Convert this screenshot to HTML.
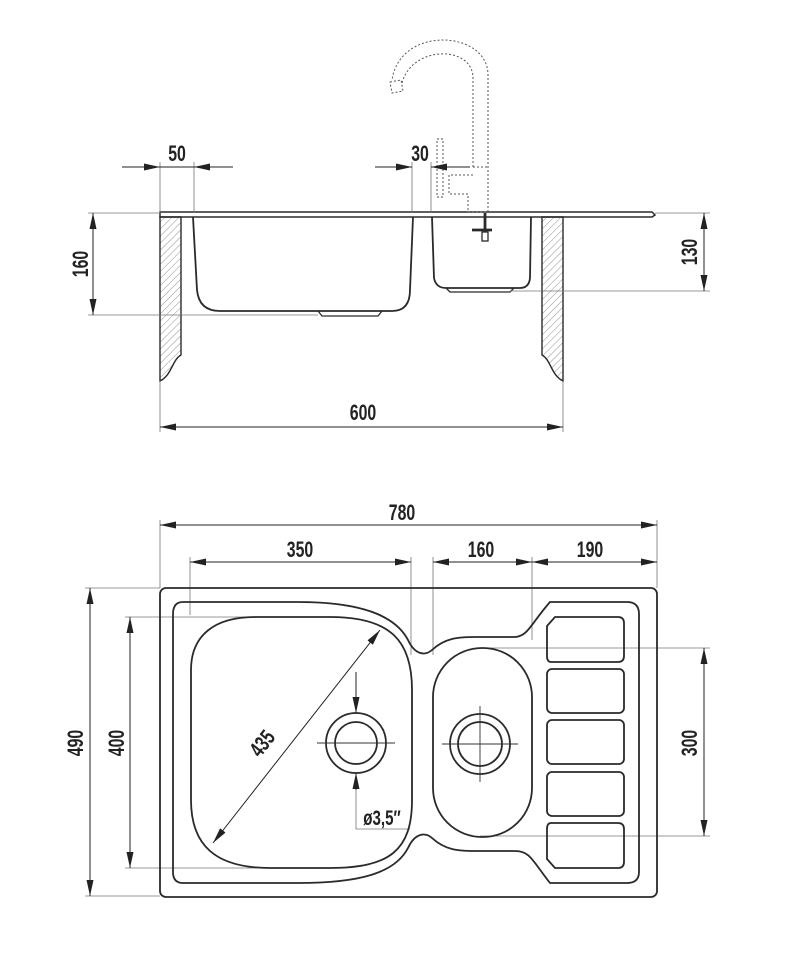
<!DOCTYPE html>
<html><head><meta charset="utf-8"><style>
html,body{margin:0;padding:0;background:#fff;}
svg{display:block;}
text{font-family:"Liberation Sans",sans-serif;font-size:22px;fill:#222;font-weight:bold;}
</style></head><body>
<svg width="796" height="964" viewBox="0 0 796 964" xmlns="http://www.w3.org/2000/svg">
<defs>
<pattern id="h" width="5" height="5" patternUnits="userSpaceOnUse" patternTransform="rotate(45)">
<line x1="0" y1="0" x2="0" y2="5" stroke="#777" stroke-width="0.8"/></pattern>
<marker id="a" markerWidth="16" markerHeight="7" refX="16" refY="3.5" orient="auto-start-reverse" markerUnits="userSpaceOnUse">
<path d="M0,0 L16,3.5 L0,7 z" fill="#222"/></marker>
</defs>
<g fill="none" stroke="#2a2a2a" stroke-width="1.8">
<path d="M160,212 L652,212 L655,215 L652,217 L160,217 z" stroke-width="1.5"/>
<path d="M160,217 L181,217 L181,355 C172,360 172,375 160,381 z" fill="url(#h)" stroke-width="1.4"/>
<path d="M563,217 L542,217 L542,355 C551,360 551,375 563,381 z" fill="url(#h)" stroke-width="1.4"/>
<path d="M193,217 L197,290 Q199,311 220,311 L392,311 Q410,311 410,290 L413,217"/>
<path d="M318,311 L322,316 L378,316 L382,311" stroke-width="1.3"/>
<path d="M432,217 L434,278 Q436,288 446,288 L520,288 Q529,288 530,278 L531,217"/>
<path d="M446,288 L450,292 L510,292 L514,288" stroke-width="1.3"/>
<line x1="485" y1="213" x2="485" y2="232" stroke-width="2.8"/>
<line x1="472" y1="230" x2="492" y2="230" stroke-width="2.8"/>
<rect x="482" y="232" width="6" height="9" stroke-width="1.3"/>
</g>
<g fill="none" stroke="#555" stroke-width="1" stroke-dasharray="2,2">
<path d="M488,212 L488,75 C488,30 400,25 392,80"/>
<path d="M473,167 L473,78 C473,45 412,45 402,83"/>
<path d="M390,82 L401,80 L403,91 L392,93 z"/>
<rect x="437" y="139" width="6" height="58"/>
<path d="M473,167 L488,167 M473,175 L449,175 L449,194 L468,194 L468,212 L488,212"/>
</g>
<g stroke="#777" stroke-width="0.8" fill="none">
<line x1="160" y1="162" x2="160" y2="213"/><line x1="194" y1="162" x2="194" y2="213"/>
<line x1="412" y1="162" x2="412" y2="213"/><line x1="431" y1="162" x2="431" y2="213"/>
<line x1="88" y1="213" x2="160" y2="213"/><line x1="88" y1="315" x2="318" y2="315"/>
<line x1="655" y1="213" x2="710" y2="213"/><line x1="510" y1="291" x2="710" y2="291"/>
<line x1="160" y1="381" x2="160" y2="432"/><line x1="563" y1="381" x2="563" y2="432"/>
</g>
<g stroke="#222" stroke-width="1">
<line x1="122" y1="167" x2="160" y2="167" marker-end="url(#a)"/>
<line x1="233" y1="167" x2="194" y2="167" marker-end="url(#a)"/>
<line x1="160" y1="167" x2="194" y2="167"/>
<line x1="375" y1="167" x2="412" y2="167" marker-end="url(#a)"/>
<line x1="470" y1="167" x2="431" y2="167" marker-end="url(#a)"/>
<line x1="93" y1="213" x2="93" y2="315" marker-start="url(#a)" marker-end="url(#a)"/>
<line x1="704" y1="213" x2="704" y2="291" marker-start="url(#a)" marker-end="url(#a)"/>
<line x1="160" y1="427" x2="563" y2="427" marker-start="url(#a)" marker-end="url(#a)"/>
</g>
<text transform="translate(177,161) scale(0.72,1)" text-anchor="middle">50</text>
<text transform="translate(420,161) scale(0.72,1)" text-anchor="middle">30</text>
<text transform="translate(363,420) scale(0.72,1)" text-anchor="middle">600</text>
<text transform="translate(88,264) rotate(-90) scale(0.72,1)" text-anchor="middle">160</text>
<text transform="translate(697,252) rotate(-90) scale(0.72,1)" text-anchor="middle">130</text>

<g stroke="#777" stroke-width="0.8" fill="none">
<line x1="160" y1="520" x2="160" y2="588"/><line x1="657" y1="520" x2="657" y2="588"/>
<line x1="190" y1="557" x2="190" y2="615"/><line x1="411" y1="557" x2="411" y2="655"/>
<line x1="433" y1="557" x2="433" y2="655"/><line x1="532" y1="557" x2="532" y2="640"/>
<line x1="85" y1="588" x2="160" y2="588"/><line x1="85" y1="896" x2="160" y2="896"/>
<line x1="125" y1="617" x2="300" y2="617"/><line x1="125" y1="868" x2="300" y2="868"/>
<line x1="480" y1="648" x2="710" y2="648"/><line x1="480" y1="836" x2="710" y2="836"/>
<path d="M356,773 L356,829 L410,829"/>
</g>
<g fill="none" stroke="#2a2a2a" stroke-width="1.8">
<rect x="160" y="588" width="497" height="309" rx="6"/>
<path d="M183,602 L298,602 C360,602 395,615 408,640 C415,655 425,656 432,650 C445,638 458,637 475,637 L515,637 C528,636 530,625 550,602 L627,602 Q639,602 639,614 L639,872 Q639,883 627,883 L550,883 C532,860 530,851 515,851 L475,851 C458,851 445,850 432,838 C425,832 415,833 408,848 C395,873 360,883 298,883 L183,883 Q173,883 173,872 L173,614 Q173,602 183,602 z"/>
<path d="M255,617 L330,617 C390,617 412,640 412,690 L412,800 C412,850 390,868 330,868 L270,868 C215,868 191,845 191,800 L191,670 C191,635 215,617 255,617 z"/>
<rect x="433" y="648" width="99" height="189" rx="49"/>
<circle cx="356" cy="743" r="30"/><circle cx="356" cy="743" r="21"/>
<circle cx="480" cy="744" r="30"/><circle cx="480" cy="744" r="22"/>
<path d="M555,617 L618,617 Q624,617 624,623 L624,656 Q624,662 618,662 L551,662 Q547,662 547,656 L547,626 z"/>
<rect x="547" y="669" width="77" height="44" rx="5"/>
<rect x="547" y="720" width="77" height="44" rx="5"/>
<rect x="547" y="772" width="77" height="44" rx="5"/>
<path d="M551,823 L618,823 Q624,823 624,829 L624,862 Q624,868 618,868 L555,868 L547,859 L547,829 Q547,823 551,823 z"/>
</g>
<g stroke="#333" stroke-width="0.9">
<line x1="317" y1="743" x2="395" y2="743"/>
<line x1="442" y1="744" x2="518" y2="744"/><line x1="480" y1="706" x2="480" y2="782"/>
</g>
<g stroke="#222" stroke-width="1">
<line x1="160" y1="525" x2="657" y2="525" marker-start="url(#a)" marker-end="url(#a)"/>
<line x1="190" y1="562" x2="411" y2="562" marker-start="url(#a)" marker-end="url(#a)"/>
<line x1="433" y1="562" x2="532" y2="562" marker-start="url(#a)" marker-end="url(#a)"/>
<line x1="532" y1="562" x2="657" y2="562" marker-start="url(#a)" marker-end="url(#a)"/>
<line x1="90" y1="588" x2="90" y2="896" marker-start="url(#a)" marker-end="url(#a)"/>
<line x1="130" y1="617" x2="130" y2="868" marker-start="url(#a)" marker-end="url(#a)"/>
<line x1="704" y1="648" x2="704" y2="836" marker-start="url(#a)" marker-end="url(#a)"/>
<line x1="213" y1="843" x2="380" y2="630" marker-start="url(#a)" marker-end="url(#a)"/>
<line x1="356" y1="672" x2="356" y2="713" marker-end="url(#a)"/>
<line x1="356" y1="790" x2="356" y2="773" marker-end="url(#a)"/>
</g>
<text transform="translate(402,520) scale(0.72,1)" text-anchor="middle">780</text>
<text transform="translate(300,557) scale(0.72,1)" text-anchor="middle">350</text>
<text transform="translate(481,557) scale(0.72,1)" text-anchor="middle">160</text>
<text transform="translate(590,557) scale(0.72,1)" text-anchor="middle">190</text>
<text transform="translate(83,743) rotate(-90) scale(0.72,1)" text-anchor="middle">490</text>
<text transform="translate(124,743) rotate(-90) scale(0.72,1)" text-anchor="middle">400</text>
<text transform="translate(697,743) rotate(-90) scale(0.72,1)" text-anchor="middle">300</text>
<text transform="translate(268,748) rotate(-52) scale(0.72,1)" text-anchor="middle">435</text>
<text transform="translate(382,825) scale(0.72,1)" text-anchor="middle" style="font-size:21px">ø3,5″</text>
</svg>
</body></html>
